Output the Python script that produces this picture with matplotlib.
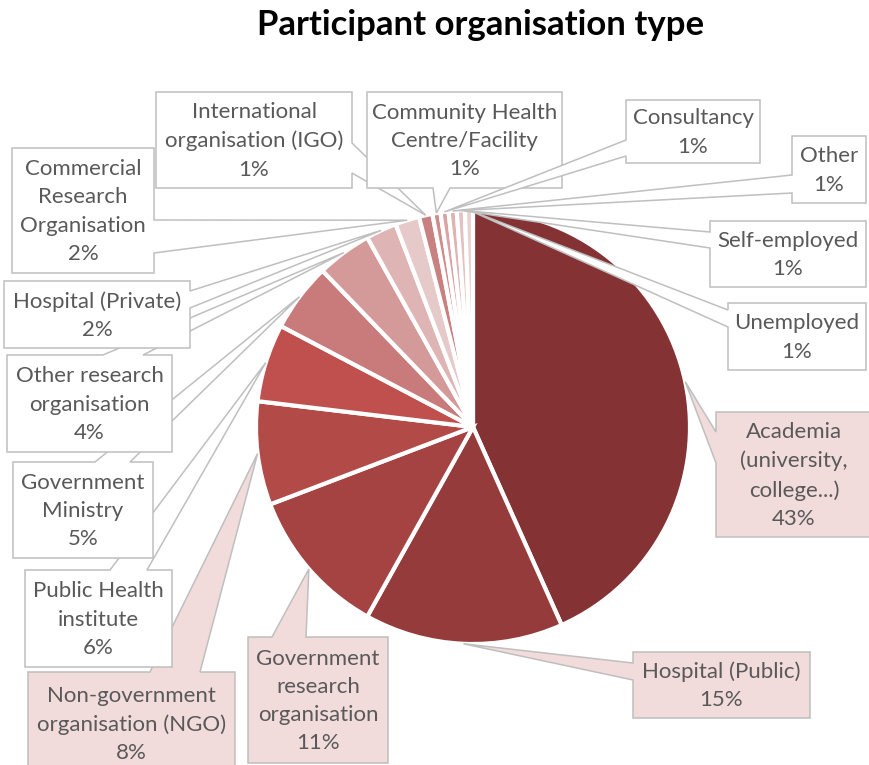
import numpy as np
import matplotlib
matplotlib.use("Agg")
import matplotlib.pyplot as plt
from matplotlib.patches import Polygon

# ---- data ----
categories = [
    "Academia\n(university,\ncollege...)",
    "Hospital (Public)",
    "Government\nresearch\norganisation",
    "Non-government\norganisation (NGO)",
    "Public Health\ninstitute",
    "Government\nMinistry",
    "Other research\norganisation",
    "Hospital (Private)",
    "Commercial\nResearch\nOrganisation",
    "International\norganisation (IGO)",
    "Community Health\nCentre/Facility",
    "Consultancy",
    "Other",
    "Self-employed",
    "Unemployed",
]
shares = [43.3, 14.8, 11.1, 7.7, 5.8, 5.1, 4.1, 2.3, 1.8, 1.0, 0.6, 0.6, 0.6, 0.6, 0.6]

slice_colors = ['#853234', '#963B3B', '#A54343', '#B24A48', '#C0504D', '#C87B7A',
                '#D49A9A', '#DEB5B4', '#E6CACA', '#C98080', '#D08B8B', '#DAA3A3',
                '#DFB3B3', '#E4C2C2', '#E9D1D1']
highlight = [True, True, True, True] + [False] * 11

# ---- layout (pixel space, y down): box x0, y0, x1, y1, pointer side, base a, base b
boxes = [
    (716, 412, 872, 537, 'left', 432, 463),
    (633, 652, 810, 718, 'left', 663, 680),
    (248, 637, 388, 763, 'top', 272, 306),
    (28, 672, 235, 775, 'top', 150, 200),
    (25, 570, 172, 667, 'top', 110, 147),
    (13, 462, 153, 558, 'top', 95, 130),
    (7, 355, 172, 452, 'top', 103, 143),
    (4, 281, 190, 348, 'right', 291, 308),
    (12, 148, 154, 273, 'right', 220, 253),
    (156, 92, 352, 188, 'right', 143, 173),
    (367, 92, 562, 188, 'bottom', 433, 450),
    (626, 100, 760, 163, 'left', 140, 156),
    (792, 136, 866, 203, 'left', 175, 193),
    (710, 221, 866, 287, 'left', 232, 248),
    (728, 303, 866, 370, 'left', 310, 327),
]

W, H = 869, 765
CX, CY, R = 473, 427, 217
EDGE = '#BFBFBF'
TXT = '#595959'
PINK = '#F2DCDB'
FONT = ['Lato', 'DejaVu Sans']

fig = plt.figure(figsize=(W / 100, H / 100), dpi=100)
ax = fig.add_axes([0, 0, 1, 1])

wedges, _ = ax.pie(shares, colors=slice_colors, startangle=-90, counterclock=True,
                   center=(CX, CY), radius=R,
                   wedgeprops=dict(edgecolor='white', linewidth=3, joinstyle='miter'))
for w in wedges:
    w.set_zorder(1)

ax.set_xlim(0, W)
ax.set_ylim(H, 0)
ax.set_aspect('auto')
ax.axis('off')


def callout_poly(box, apex):
    x0, y0, x1, y1, side, a, b = box
    if side == 'top':
        pts = [(x0, y0), (a, y0), apex, (b, y0), (x1, y0), (x1, y1), (x0, y1)]
    elif side == 'right':
        pts = [(x0, y0), (x1, y0), (x1, a), apex, (x1, b), (x1, y1), (x0, y1)]
    elif side == 'bottom':
        pts = [(x0, y0), (x1, y0), (x1, y1), (b, y1), apex, (a, y1), (x0, y1)]
    else:
        pts = [(x0, y0), (x1, y0), (x1, y1), (x0, y1), (x0, b), apex, (x0, a)]
    return pts


for i, (w, cat, val, box) in enumerate(zip(wedges, categories, shares, boxes)):
    mid = np.deg2rad((w.theta1 + w.theta2) / 2)
    apex = (CX + R * np.cos(mid), CY + R * np.sin(mid))
    face = PINK if highlight[i] else 'white'
    poly = Polygon(callout_poly(box, apex), closed=True, facecolor=face,
                   edgecolor=EDGE, linewidth=1.1, joinstyle='miter', zorder=2 + i)
    ax.add_patch(poly)
    x0, y0, x1, y1 = box[:4]
    ax.text((x0 + x1) / 2, (y0 + y1) / 2 + 1,
            f"{cat}\n{round(val)}%", ha='center', va='center', color=TXT,
            fontsize=16, family=FONT, linespacing=1.52, zorder=2.5 + i)

ax.text(481, 25, "Participant organisation type", ha='center', va='center',
        fontsize=25, fontweight='bold', color='black', family=FONT, zorder=50)

fig.savefig("out.png", dpi=100)
